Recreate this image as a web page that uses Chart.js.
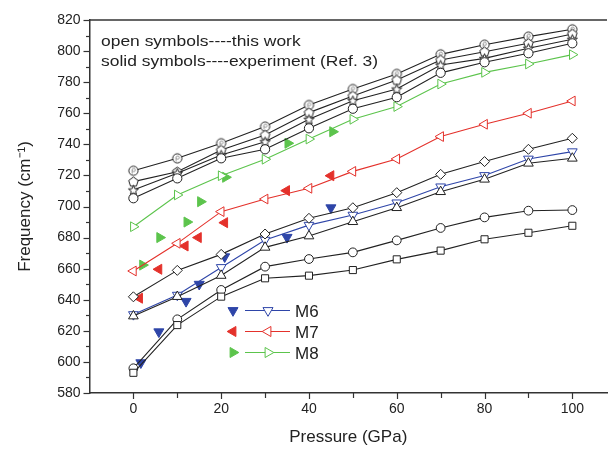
<!DOCTYPE html>
<html>
<head>
<meta charset="utf-8">
<script src="https://cdn.jsdelivr.net/npm/chart.js@4.4.0/dist/chart.umd.min.js"></script>
<style>
  html, body { margin: 0; padding: 0; background: #fff; }
  #wrap { position: relative; width: 614px; height: 450px; }
</style>
</head>
<body>
<div id="wrap"><canvas id="freq_chart"></canvas></div>
<script>
// pressure grid of the calculations (GPa)
var pressure = [0, 10, 20, 30, 40, 50, 60, 70, 80, 90, 100];

// open symbols - this work (cm-1)
var calcCircleP = [723, 731, 740.7, 751.4, 765.3, 775.6, 785.3, 797.9, 804.1, 809.3, 814];
var calcPentagon = [716, 722.4, 736.3, 746, 760.4, 771.1, 781.4, 794.3, 799.6, 805, 811];
var calcStar = [710.6, 721.4, 733.1, 741.7, 756.1, 768.1, 775.6, 791, 795.3, 801.8, 807.6];
var calcCircle = [705.3, 718.1, 731, 736.8, 750.3, 762.9, 770.3, 786, 792.8, 798.6, 805];
var calcM8 = [687, 707.4, 719.8, 730.4, 743.4, 756.1, 764.3, 778.8, 786.3, 791.7, 797.7];
var calcM7 = [658.5, 676.3, 696.7, 704.8, 711.7, 722.6, 730.6, 745, 752.9, 760, 767.9];
var calcDiamond = [641.9, 658.9, 669.2, 682.3, 692.4, 699.2, 708.9, 720.7, 728.9, 736.8, 743.9];
var calcM6 = [630.5, 643, 660.8, 678.4, 688, 694.5, 702.4, 712.7, 720, 730.6, 735.3];
var calcUpTri = [629.5, 642, 655.6, 673.7, 681, 690.2, 699.2, 709.5, 717.5, 727.8, 731];
var calcCircleLow = [595.9, 627.4, 646.3, 661.3, 666.2, 670.5, 678.2, 686.2, 693, 697.3, 697.7];
var calcSquare = [593, 623.7, 642, 653.8, 655.5, 659.1, 666, 671.6, 678.9, 683.1, 687.6];

// solid symbols - experiment (Ref. 3)
var expM6P = [1.7, 5.8, 12, 15, 20.8, 35, 45];
var expM6F = [599.5, 619.4, 639, 650, 667.7, 680.2, 699.2];
var expM7P = [1.4, 5.8, 11.8, 14.8, 20.8, 34.9, 45];
var expM7F = [641, 659.6, 674.6, 680, 689.6, 710.2, 719.8];
var expM8P = [2.1, 6, 12.2, 15.3, 21, 35.2, 45.4];
var expM8F = [662.3, 680, 690, 703.1, 718.8, 740.7, 748.1];

// axis ticks
var xTicks = [0, 10, 20, 30, 40, 50, 60, 70, 80, 90, 100];
var yTicks = [580, 590, 600, 610, 620, 630, 640, 650, 660, 670, 680, 690, 700, 710, 720, 730, 740, 750, 760, 770, 780, 790, 800, 810, 820];

var legendNames = ['M6', 'M7', 'M8'];
var notes = ['open symbols----this work', 'solid symbols----experiment (Ref. 3)'];

var BLACK = '#222';
var BLUE = '#2e45a8';
var RED = '#e4312b';
var GREEN = '#5cc44c';
var FONT = '"Liberation Sans", Arial, sans-serif';

function pts(xs, ys) {
    return xs.map(function (x, i) { return {x: x, y: ys[i]}; });
}

function markerCanvas(draw) {
    var c = document.createElement('canvas');
    c.width = 13; c.height = 13;
    var g = c.getContext('2d');
    g.translate(6.5, 6.5);
    g.lineWidth = 1;
    g.strokeStyle = BLACK;
    g.fillStyle = '#fff';
    draw(g);
    return c;
}

var circlePMarker = markerCanvas(function (g) {
    g.beginPath(); g.arc(0, 0, 4.6, 0, Math.PI * 2); g.fill(); g.stroke();
    g.strokeStyle = '#999';
    g.beginPath(); g.arc(0.3, -0.8, 1.6, 0, Math.PI * 2); g.moveTo(-1.3, -0.8); g.lineTo(-1.3, 3); g.stroke();
});
var pentagonMarker = markerCanvas(function (g) {
    g.beginPath();
    for (var i = 0; i < 5; i++) {
        var a = -Math.PI / 2 + i * 2 * Math.PI / 5;
        g.lineTo(Math.cos(a) * 5, Math.sin(a) * 5 + 0.4);
    }
    g.closePath(); g.fill(); g.stroke();
});
var starMarker = markerCanvas(function (g) {
    g.beginPath();
    for (var i = 0; i < 10; i++) {
        var a = -Math.PI / 2 + i * Math.PI / 5;
        var r = i % 2 ? 2.3 : 5.3;
        g.lineTo(Math.cos(a) * r, Math.sin(a) * r + 0.5);
    }
    g.closePath(); g.fill(); g.stroke();
});

function calcSet(data, color, style, radius, rotation) {
    return {
        data: pts(pressure, data),
        borderColor: color,
        borderWidth: 1.1,
        pointStyle: style,
        pointRadius: radius,
        pointRotation: rotation || 0,
        pointBorderColor: color,
        pointBackgroundColor: '#fff',
        pointBorderWidth: 1,
        showLine: true,
        tension: 0
    };
}

function expSet(xs, ys, color, rotation) {
    return {
        data: pts(xs, ys),
        showLine: false,
        pointStyle: 'triangle',
        pointRadius: 5.8,
        pointRotation: rotation,
        pointBorderColor: color,
        pointBackgroundColor: color,
        pointBorderWidth: 1
    };
}

function drawTri(ctx, x, y, r, rot, color, filled) {
    ctx.save();
    ctx.beginPath();
    var a = rot * Math.PI / 180;
    for (var i = 0; i < 3; i++) {
        ctx.lineTo(x + Math.sin(a) * r, y - Math.cos(a) * r);
        a += 2 * Math.PI / 3;
    }
    ctx.closePath();
    ctx.lineWidth = 1;
    ctx.strokeStyle = color;
    ctx.fillStyle = filled ? color : '#fff';
    ctx.fill(); ctx.stroke();
    ctx.restore();
}

var decorPlugin = {
    id: 'decor',
    beforeDraw: function (chart) {
        var ctx = chart.ctx;
        ctx.save();
        ctx.fillStyle = '#fff';
        ctx.fillRect(0, 0, chart.width, chart.height);
        ctx.restore();
    },
    afterDraw: function (chart) {
        var ctx = chart.ctx, a = chart.chartArea;
        var xs = chart.scales.x, ys = chart.scales.y;
        ctx.save();
        ctx.strokeStyle = '#333';
        ctx.lineWidth = 1.5;
        // top frame
        ctx.beginPath();
        ctx.moveTo(a.left, a.top); ctx.lineTo(a.right, a.top);
        ctx.stroke();
        // ticks, outward
        ctx.lineWidth = 1.2;
        xTicks.forEach(function (v) {
            var px = Math.round(xs.getPixelForValue(v)) + 0.5;
            var len = v % 20 === 0 ? 6 : 5;
            ctx.beginPath(); ctx.moveTo(px, a.bottom); ctx.lineTo(px, a.bottom + len); ctx.stroke();
        });
        yTicks.forEach(function (v) {
            var py = Math.round(ys.getPixelForValue(v)) + 0.5;
            var len = v % 20 === 0 ? 6 : 3.5;
            ctx.beginPath(); ctx.moveTo(a.left, py); ctx.lineTo(a.left - len, py); ctx.stroke();
        });

        // notes (the source font runs a little wide)
        ctx.fillStyle = BLACK;
        ctx.font = '15.5px ' + FONT;
        ctx.textBaseline = 'alphabetic';
        notes.forEach(function (t, i) {
            ctx.save();
            ctx.translate(101, 46 + i * 20);
            ctx.scale(1.125, 1);
            ctx.fillText(t, 0, 0);
            ctx.restore();
        });

        // legend
        var colors = [BLUE, RED, GREEN];
        var rots = [180, 270, 90];
        ctx.font = '17px ' + FONT;
        legendNames.forEach(function (name, i) {
            var y = 310.5 + i * 21;
            drawTri(ctx, 233, y, 5.8, rots[i], colors[i], true);
            ctx.strokeStyle = colors[i];
            ctx.lineWidth = 1.1;
            ctx.beginPath(); ctx.moveTo(245, y); ctx.lineTo(290, y); ctx.stroke();
            drawTri(ctx, 268, y, 5.8, rots[i], colors[i], false);
            ctx.fillStyle = '#222';
            ctx.fillText(name, 295, y + 6);
        });
        ctx.restore();
    }
};

var ctx = document.getElementById('freq_chart').getContext('2d');
var freqChart = new Chart(ctx, {
    type: 'line',
    data: {
        datasets: [
            calcSet(calcSquare, BLACK, 'rect', 5),
            calcSet(calcCircleLow, BLACK, 'circle', 4.4),
            calcSet(calcUpTri, BLACK, 'triangle', 5.6),
            calcSet(calcDiamond, BLACK, 'rectRot', 5),
            calcSet(calcM6, BLUE, 'triangle', 5.6, 180),
            calcSet(calcM7, RED, 'triangle', 5.6, 270),
            calcSet(calcM8, GREEN, 'triangle', 5.6, 90),
            calcSet(calcCircle, BLACK, 'circle', 4.6),
            calcSet(calcStar, BLACK, starMarker, 6),
            calcSet(calcPentagon, BLACK, pentagonMarker, 6),
            calcSet(calcCircleP, BLACK, circlePMarker, 6),
            expSet(expM6P, expM6F, BLUE, 180),
            expSet(expM7P, expM7F, RED, 270),
            expSet(expM8P, expM8F, GREEN, 90)
        ]
    },
    options: {
        responsive: true,
        maintainAspectRatio: false,
        animation: false,
        layout: {
            padding: {left: 0, right: 0, top: 20, bottom: 0}
        },
        plugins: {
            legend: {display: false},
            tooltip: {enabled: false}
        },
        scales: {
            x: {
                type: 'linear',
                min: -10,
                max: 107.9,
                afterFit: function (s) { s.height = 57; },
                afterBuildTicks: function (s) {
                    s.ticks = xTicks.map(function (v) { return {value: v}; });
                },
                grid: {display: false, drawTicks: false},
                border: {display: true, color: '#333', width: 1.5},
                ticks: {
                    padding: 8,
                    color: '#222',
                    font: {family: FONT, size: 14},
                    maxRotation: 0,
                    autoSkip: false,
                    callback: function (v) { return v % 20 === 0 ? String(v) : ''; }
                },
                title: {
                    display: true,
                    text: 'Pressure (GPa)',
                    color: '#222',
                    font: {family: FONT, size: 17},
                    padding: {top: 0, bottom: 2}
                }
            },
            y: {
                type: 'linear',
                min: 580,
                max: 820,
                afterFit: function (s) { s.width = 89.5; },
                afterBuildTicks: function (s) {
                    s.ticks = yTicks.map(function (v) { return {value: v}; });
                },
                grid: {display: false, drawTicks: false},
                border: {display: true, color: '#333', width: 1.5},
                ticks: {
                    padding: 9,
                    color: '#222',
                    font: {family: FONT, size: 14},
                    autoSkip: false,
                    callback: function (v) { return v % 20 === 0 ? String(v) : ''; }
                },
                title: {
                    display: true,
                    text: 'Frequency (cm\u207B\u00B9)',
                    color: '#222',
                    font: {family: FONT, size: 17},
                    padding: {top: 15, bottom: 0}
                }
            }
        }
    },
    plugins: [decorPlugin]
});
</script>
</body>
</html>
